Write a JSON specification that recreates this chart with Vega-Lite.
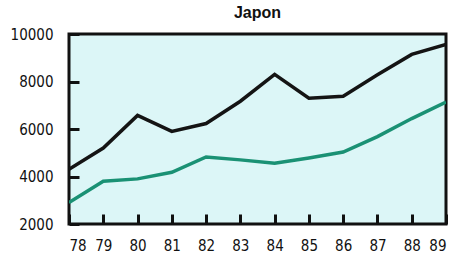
{
  "$schema": "https://vega.github.io/schema/vega-lite/v6.json",
  "width": 377,
  "height": 190,
  "autosize": {"type": "none"},
  "padding": {"left": 69, "top": 34, "right": 7, "bottom": 35},
  "background": "white",
  "title": {"text": "Japon", "fontSize": 16, "font": "Liberation Sans", "fontWeight": "bold", "color": "#111", "offset": 6, "anchor": "middle"},
  "config": {
    "view": {"fill": "#dcf6f7", "stroke": "#111", "strokeWidth": 3}
  },
  "data": {"values": [
    {"year": 78, "series": "A", "value": 4300},
    {"year": 79, "series": "A", "value": 5200},
    {"year": 80, "series": "A", "value": 6570},
    {"year": 81, "series": "A", "value": 5900},
    {"year": 82, "series": "A", "value": 6230},
    {"year": 83, "series": "A", "value": 7170},
    {"year": 84, "series": "A", "value": 8300},
    {"year": 85, "series": "A", "value": 7300},
    {"year": 86, "series": "A", "value": 7380},
    {"year": 87, "series": "A", "value": 8280},
    {"year": 88, "series": "A", "value": 9140},
    {"year": 89, "series": "A", "value": 9560},
    {"year": 78, "series": "B", "value": 2900},
    {"year": 79, "series": "B", "value": 3800},
    {"year": 80, "series": "B", "value": 3900},
    {"year": 81, "series": "B", "value": 4180},
    {"year": 82, "series": "B", "value": 4820},
    {"year": 83, "series": "B", "value": 4700},
    {"year": 84, "series": "B", "value": 4560},
    {"year": 85, "series": "B", "value": 4780},
    {"year": 86, "series": "B", "value": 5030},
    {"year": 87, "series": "B", "value": 5680},
    {"year": 88, "series": "B", "value": 6440},
    {"year": 89, "series": "B", "value": 7130}
  ]},
  "mark": {"type": "line", "strokeWidth": 3.5, "clip": true},
  "encoding": {
    "x": {"field": "year", "type": "quantitative", "scale": {"domain": [78, 89], "nice": false, "zero": false},
      "axis": {"values": [78,79,80,81,82,83,84,85,86,87,88,89], "format": "d", "domain": false, "grid": false, "ticks": true, "tickSize": 10, "tickWidth": 3, "tickColor": "#111", "tickOpacity": 1, "zindex": 2, "offset": -10, "labelPadding": 14, "labelFont": "DejaVu Sans Condensed", "labelFontSize": 15, "labelColor": "#111", "title": null}},
    "y": {"field": "value", "type": "quantitative", "scale": {"domain": [2000, 10000], "nice": false, "zero": false},
      "axis": {"values": [2000,4000,6000,8000,10000], "format": "d", "domain": false, "grid": false, "ticks": true, "tickSize": 10, "tickWidth": 3, "tickColor": "#111", "tickOpacity": 1, "zindex": 2, "offset": -10, "labelPadding": 16, "labelFont": "DejaVu Sans Condensed", "labelFontSize": 15, "labelColor": "#111", "title": null}},
    "color": {"field": "series", "type": "nominal", "legend": null,
      "scale": {"domain": ["A", "B"], "range": ["#141414", "#1a9174"]}}
  }
}
